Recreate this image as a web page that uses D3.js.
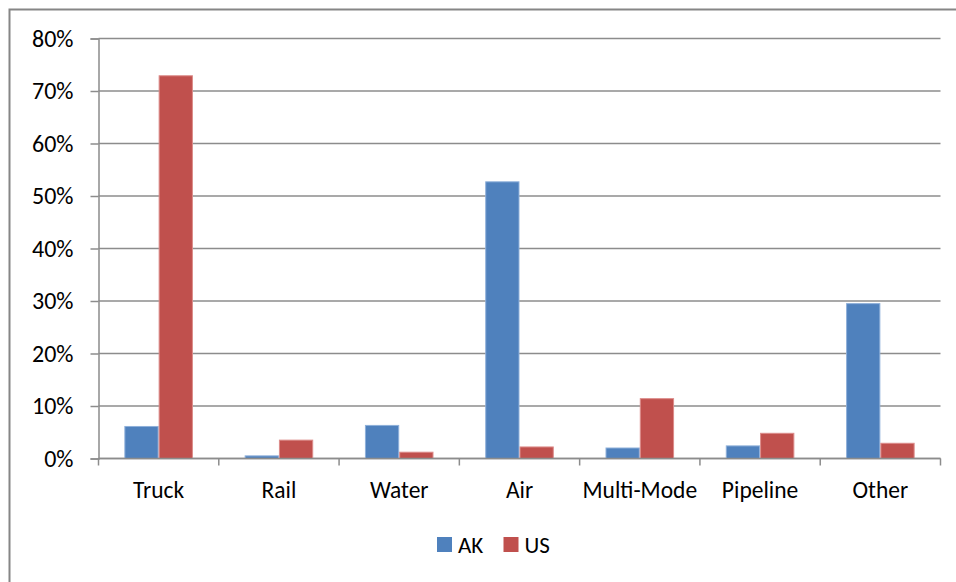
<!DOCTYPE html>
<html>
<head>
<meta charset="utf-8">
<script src="https://cdn.jsdelivr.net/npm/d3@7"></script>
<style>
  html, body { margin: 0; padding: 0; background: #fff; }
  svg { display: block; font-family: Calibri, Carlito, Lato, "Open Sans", sans-serif; }
</style>
</head>
<body>
<svg id="chart" width="956" height="582"></svg>
<script>
// Freight shipments by transport mode, share of value (%)
const categories = ["Truck", "Rail", "Water", "Air", "Multi-Mode", "Pipeline", "Other"];
const seriesNames = ["AK", "US"];
const akValues = [6.1, 0.5, 6.3, 52.7, 2.0, 2.4, 29.5];
const usValues = [72.9, 3.5, 1.2, 2.2, 11.4, 4.8, 2.9];
const yTicks = [0, 10, 20, 30, 40, 50, 60, 70, 80];
const colors = ["#4F81BD", "#C0504D"];
const edgeColors = ["#8EB0DA", "#DC8C8A"];

const fontStack = "Calibri, Carlito, Lato, 'Open Sans', sans-serif";
const svg = d3.select("#chart");

// Outer chart frame (runs off the right and bottom edges)
svg.append("rect")
  .attr("x", 9.5).attr("y", 9.5)
  .attr("width", 1000).attr("height", 1000)
  .attr("fill", "none").attr("stroke", "#868686").attr("stroke-width", 2);

const plot = { left: 98.5, right: 940.5, top: 38.5, bottom: 458.5 };

const x = d3.scaleBand()
  .domain(categories)
  .range([plot.left, plot.right])
  .paddingInner(0)
  .paddingOuter(0);

const inner = d3.scaleBand()
  .domain(seriesNames)
  .range([0, x.bandwidth() * 0.57])
  .padding(0);

const y = d3.scaleLinear().domain([0, 80]).range([plot.bottom, plot.top]);

// Horizontal gridlines
svg.append("g")
  .selectAll("line")
  .data(yTicks)
  .join("line")
  .attr("x1", plot.left).attr("x2", plot.right)
  .attr("y1", d => y(d)).attr("y2", d => y(d))
  .attr("stroke", "#8c8c8c").attr("stroke-width", 1.5);

// Y axis
const yAxis = d3.axisLeft(y)
  .tickValues(yTicks)
  .tickSize(8)
  .tickPadding(17)
  .tickFormat(d => d + "%");
const yg = svg.append("g").attr("transform", `translate(${plot.left},0)`).call(yAxis);
yg.attr("font-family", fontStack).attr("font-size", 24);
yg.select(".domain").attr("stroke", "#8c8c8c").attr("stroke-width", 1.5);
yg.selectAll(".tick line").attr("stroke", "#8c8c8c").attr("stroke-width", 1.5);
yg.selectAll(".tick text").attr("fill", "#000");

// Bars
const series = [akValues, usValues];
const groups = svg.append("g")
  .selectAll("g")
  .data(categories)
  .join("g")
  .attr("transform", d => `translate(${x(d) + (x.bandwidth() - inner.range()[1]) / 2},0)`);

groups.selectAll("rect")
  .data((c, i) => seriesNames.map((s, j) => ({ s, j, v: series[j][i] })))
  .join("rect")
  .attr("x", d => inner(d.s) + 0.5)
  .attr("width", inner.bandwidth() - 1)
  .attr("y", d => y(d.v))
  .attr("height", d => y(0) - y(d.v))
  .attr("fill", d => colors[d.j])
  .attr("stroke", d => edgeColors[d.j])
  .attr("stroke-width", 1);

// X axis with ticks between categories
const xg = svg.append("g").attr("transform", `translate(0,${plot.bottom})`);
xg.append("line")
  .attr("x1", plot.left).attr("x2", plot.right)
  .attr("stroke", "#8c8c8c").attr("stroke-width", 1.5);
const boundaries = categories.map(c => x(c)).concat([x(categories[categories.length - 1]) + x.bandwidth()]);
xg.selectAll("line.tk")
  .data(boundaries)
  .join("line")
  .attr("class", "tk")
  .attr("x1", d => d).attr("x2", d => d)
  .attr("y1", 0).attr("y2", 7)
  .attr("stroke", "#8c8c8c").attr("stroke-width", 1.5);
xg.selectAll("text")
  .data(categories)
  .join("text")
  .attr("x", d => x(d) + x.bandwidth() / 2)
  .attr("y", 39)
  .attr("text-anchor", "middle")
  .attr("font-size", 23.5)
  .attr("fill", "#000")
  .text(d => d);

// Legend
const legend = svg.append("g").attr("transform", "translate(437,537)");
const legendItems = legend.selectAll("g")
  .data(seriesNames)
  .join("g")
  .attr("transform", (d, i) => `translate(${i * 66.5},0)`);
legendItems.append("rect")
  .attr("width", 15).attr("height", 15)
  .attr("fill", (d, i) => colors[i]);
legendItems.append("text")
  .attr("x", 21).attr("y", 16)
  .attr("font-size", 23).attr("fill", "#000")
  .text(d => d);
</script>
</body>
</html>
